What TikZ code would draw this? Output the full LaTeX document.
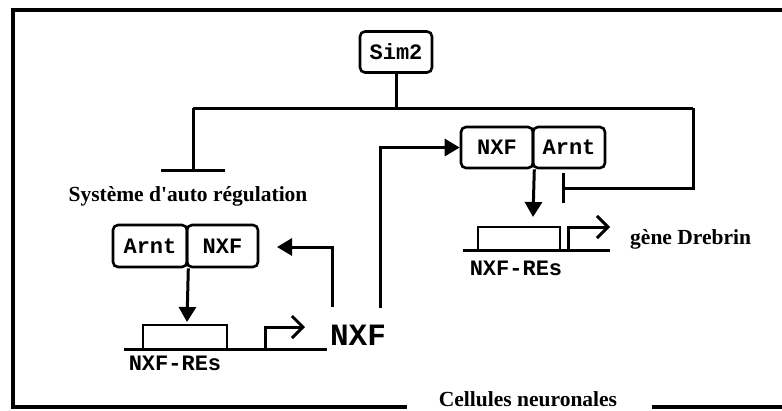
\documentclass[tikz,border=0pt]{standalone}
\usepackage{fontspec}
\setmainfont{Liberation Serif}[Ligatures=TeXOff]
\setmonofont{Liberation Mono}
\usetikzlibrary{arrows.meta}
\tikzset{
  pbox/.style={draw, line width=2.6pt, rounded corners=5pt, minimum height=41pt, inner sep=0pt,
    font=\fontsize{22}{22}\selectfont\ttfamily\bfseries},
  conn/.style={line width=3pt},
  tri/.style={-{Triangle[length=15pt,width=17pt]}},
  prom/.style={line width=3pt, -{Straight Barb[length=11pt,width=22pt,line width=3pt]}},
  serifl/.style={font=\fontsize{21.5}{21.5}\selectfont\bfseries, inner sep=0pt},
  monol/.style={font=\fontsize{22}{22}\selectfont\ttfamily\bfseries, inner sep=0pt},
  gbox/.style={draw, line width=2.6pt},
}
\begin{document}
\begin{tikzpicture}[x=1pt,y=-1pt]
\useasboundingbox (0,0) rectangle (782,410);
% frame
\draw[line width=3.5pt] (782,10) -- (13,10) -- (13,407) -- (407,407);
\draw[line width=3.5pt] (652,407) -- (782,407);
\node[serifl, anchor=base] (cell) at (528,406) {Cellules neuronales};

% Sim2
\node[pbox, minimum width=72pt] (sim2) at (396,52) {Sim2};
\coordinate (hL) at (193,108);
\coordinate (hR) at (693,108);
\coordinate (barL) at (193,172);
\coordinate (barR) at (562,188);
\draw[conn] (sim2.south) -- (sim2.south |- hL);
\draw[conn] (hL) -- (hR);
\draw[conn, -{Bar[width=64pt,line width=3pt]}] (hL) -- (barL);
\draw[conn, -{Bar[width=30pt,line width=3pt]}] (hR) |- (barR);
\node[serifl] (autoreg) at (188,196) {Système d'auto régulation};

% top right complex
\node[pbox, minimum width=72pt] (nxfT) at (497,147.5) {NXF};
\node[pbox, minimum width=72pt] (arntT) at (569,147.5) {Arnt};
\coordinate (tipT) at (533,217);
\draw[conn, tri] (nxfT.south east) -- (tipT);

% right gene
\draw[line width=3pt] (463,250) -- (610,250);
\node[gbox, minimum width=82pt, minimum height=23pt, inner sep=0pt] (boxR) at (519,238.5) {};
\coordinate (promR) at (568,250);
\coordinate (promRend) at (610,227);
\draw[prom] (promR) |- (promRend);
\node[serifl, anchor=west] (drebrin) at (630,239) {gène Drebrin};
\node[monol] (reR) at (516,268) {NXF-REs};

% left complex
\node[pbox, minimum width=74pt, minimum height=42pt] (arntL) at (150,246) {Arnt};
\node[pbox, minimum width=71pt, minimum height=42pt] (nxfL) at (222.5,246) {NXF};
\coordinate (tipL) at (187,322);
\draw[conn, tri] (arntL.south east) -- (tipL);

% left gene
\draw[line width=3pt] (124,349) -- (327,349);
\node[gbox, minimum width=84pt, minimum height=24pt, inner sep=0pt] (boxL) at (185,337) {};
\coordinate (promL) at (265,349);
\coordinate (promLend) at (305,327);
\draw[prom] (promL) |- (promLend);
\node[font=\fontsize{31}{31}\selectfont\ttfamily\bfseries, inner sep=0pt] (nxfbig) at (358,335) {NXF};
\node[monol] (reL) at (175,363) {NXF-REs};

% feedback arrows
\coordinate (fb) at (332,307);
\coordinate (fbend) at (277,247);
\draw[conn, tri] (fb) |- (fbend);
\coordinate (up) at (380,308);
\draw[conn, tri] (up) |- (nxfT.west);
\end{tikzpicture}
\end{document}
